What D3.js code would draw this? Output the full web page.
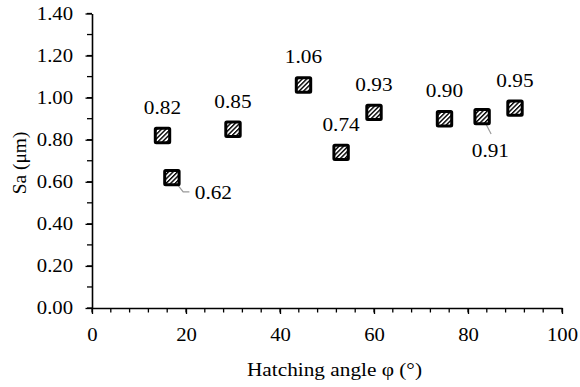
<!DOCTYPE html>
<html><head><meta charset="utf-8">
<script src="https://cdn.jsdelivr.net/npm/d3@7"></script>
<style>body{margin:0;background:#fff}svg{display:block}text{font-family:"Liberation Serif","Times New Roman",serif;fill:#000}</style>
</head><body><svg id="c" width="580" height="387"></svg>
<script>
const angles = [15, 17, 30, 45, 53, 60, 75, 83, 90];
const saValues = [0.82, 0.62, 0.85, 1.06, 0.74, 0.93, 0.90, 0.91, 0.95];
const labelTexts = ["0.82", "0.62", "0.85", "1.06", "0.74", "0.93", "0.90", "0.91", "0.95"];
const xTicks = [0, 20, 40, 60, 80, 100];
const yTicks = [0, 0.2, 0.4, 0.6, 0.8, 1.0, 1.2, 1.4];
const labelOffsets = [[0,-28],[41.5,14.5],[0,-28],[0,-28],[0,-28],[0,-28],[0,-28],[8.3,34],[0,-28]];
const leaderKinds = [null,"elbow",null,null,null,null,null,"straight",null];
const FF = '"Liberation Serif","Times New Roman",serif';

const svg = d3.select("#c");
const x = d3.scaleLinear().domain([0,100]).range([92,562]);
const y = d3.scaleLinear().domain([0,1.4]).range([308,13.5]);

function stretch(sel, k){
  sel.each(function(){
    const w = this.getComputedTextLength();
    d3.select(this).attr("textLength", w*k).attr("lengthAdjust","spacingAndGlyphs");
  });
}

const defs = svg.append("defs");
const pat = defs.append("pattern").attr("id","hatch").attr("patternUnits","userSpaceOnUse")
  .attr("width",3.2).attr("height",3.2).attr("patternTransform","rotate(45)");
pat.append("rect").attr("width",3.2).attr("height",3.2).attr("fill","#fff");
pat.append("rect").attr("width",1.4).attr("height",3.2).attr("fill","#000");

const xMinor = d3.range(0,101,4);
svg.append("g").selectAll("line").data(xMinor).join("line")
  .attr("x1",d=>x(d)).attr("x2",d=>x(d)).attr("y1",308).attr("y2",312.5)
  .attr("stroke","#000").attr("stroke-width",1.3);
const yMinor = d3.range(0,15).map(i=>i/10);
svg.append("g").selectAll("line").data(yMinor).join("line")
  .attr("y1",d=>y(d)).attr("y2",d=>y(d)).attr("x1",87).attr("x2",92)
  .attr("stroke","#000").attr("stroke-width",1.3);

const fmtY = d3.format(".2f");
const xAxis = svg.append("g").attr("transform","translate(0,308)")
  .call(d3.axisBottom(x).tickValues(xTicks).tickSize(6).tickPadding(14).tickSizeOuter(0));
const yAxis = svg.append("g").attr("transform","translate(92,0)")
  .call(d3.axisLeft(y).tickValues(yTicks).tickFormat(fmtY).tickSize(6.5).tickPadding(12.5).tickSizeOuter(0));
[xAxis,yAxis].forEach(a=>{
  a.attr("font-family",null).attr("font-size",null);
  a.select(".domain").attr("stroke","#000").attr("stroke-width",1.6);
  a.selectAll(".tick line").attr("stroke","#000").attr("stroke-width",1.3);
  a.selectAll(".tick text").style("font-family",FF).style("font-size","18px").attr("fill","#000");
  stretch(a.selectAll(".tick text"), 1.15);
});

const xt = svg.append("text").attr("x",334.5).attr("y",376).attr("text-anchor","middle")
  .style("font-size","18.5px").text("Hatching angle φ (°)");
stretch(xt, 1.15);
const yt = svg.append("text").attr("transform","translate(26,163) rotate(-90)").attr("text-anchor","middle")
  .style("font-size","18.5px").text("Sa (μm)");
stretch(yt, 1.05);

const pts = angles.map((a,i)=>({x:x(a), y:y(saValues[i]), t:labelTexts[i], o:labelOffsets[i], l:leaderKinds[i]}));

const lg = svg.append("g");
pts.forEach(p=>{
  if(p.l==="elbow"){
    lg.append("polyline").attr("points",`${p.x},${p.y} ${p.x+11.3},${p.y+14.3} ${p.x+17.5},${p.y+14.3}`)
      .attr("fill","none").attr("stroke","#999").attr("stroke-width",1.2);
  } else if(p.l==="straight"){
    lg.append("line").attr("x1",p.x).attr("y1",p.y).attr("x2",p.x+9).attr("y2",p.y+17.5)
      .attr("stroke","#999").attr("stroke-width",1.2);
  }
});

svg.append("g").selectAll("rect").data(pts).join("rect")
  .attr("x",d=>d.x-7.2).attr("y",d=>d.y-7.2).attr("width",14.4).attr("height",14.4).attr("rx",1)
  .attr("fill","url(#hatch)").attr("stroke","#000").attr("stroke-width",3);

const lbl = svg.append("g").selectAll("text").data(pts).join("text")
  .attr("x",d=>d.x+d.o[0]).attr("y",d=>d.y+d.o[1]).attr("text-anchor","middle").attr("dy","0.35em")
  .style("font-size","18.5px").text(d=>d.t);
stretch(lbl, 1.15);
</script></body></html>
